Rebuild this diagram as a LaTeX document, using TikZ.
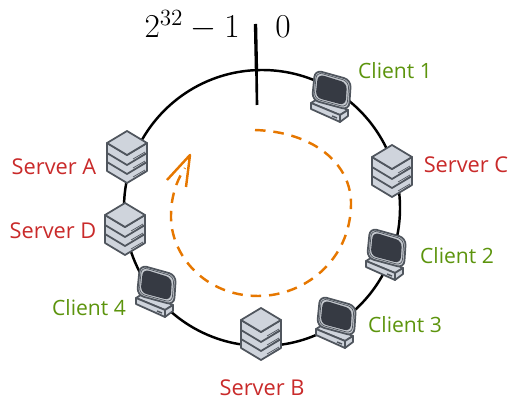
\documentclass[tikz,border=0pt]{standalone}
\usepackage{fontspec}
\setmainfont{Open Sans}
\usepackage{amsmath}
\usepackage{tikz}

\definecolor{iconline}{HTML}{50565E}
\definecolor{iconfill}{HTML}{CFD4DC}
\definecolor{iconrim}{HTML}{C4C8CE}
\definecolor{screendark}{HTML}{363A43}
\definecolor{servertext}{HTML}{C92A2A}
\definecolor{clienttext}{HTML}{5C940D}
\definecolor{sweep}{HTML}{E67700}

\tikzset{
  serverlabel/.style={text=servertext, font=\fontsize{12.4}{14}\selectfont},
  clientlabel/.style={text=clienttext, font=\fontsize{12}{14}\selectfont},
  hashlabel/.style={inner sep=0pt, font=\fontsize{17.5}{20}\selectfont},
  iconstroke/.style={draw=iconline, line width=1pt, line join=round},
  % one stack of three boxes
  pics/serverstack/.style={code={
    \foreach \layer in {18,9,0} {
      \draw[iconstroke, fill=iconfill] (-20,-15+\layer) -- (0,-3+\layer) -- (20,-15+\layer) -- (20,-5+\layer) -- (0,7+\layer) -- (-20,-5+\layer) -- cycle;
      \draw[iconline, line width=0.4pt] (6,1+\layer) -- (18,-6+\layer);
      \draw[iconline, line width=0.8pt] (13,-1+\layer) -- (18,-4+\layer);
    }
    \draw[iconstroke, fill=iconfill] (0,-27) -- (20,-15) -- (0,-3) -- (-20,-15) -- cycle;
  }},
  % desktop with its screen
  pics/clientbox/.style={code={
    \draw[iconstroke, fill=iconfill] (-20,8) -- (-12,3) -- (17,15) -- (9,20) -- cycle;
    \draw[iconstroke, fill=iconfill] (-20,8) -- (9,20) -- (9,27) -- (-20,14) -- cycle;
    \draw[iconstroke, fill=iconfill] (9,20) -- (17,15) -- (17,21) -- (9,27) -- cycle;
    \draw[iconline, line width=0.8pt] (1,21) -- (6,23);
    \draw[iconstroke, fill=iconrim, rounded corners=4pt] (-16,-25) -- (20,-15) -- (18,15) -- (-19,5) -- cycle;
    \draw[iconline, line width=0.4pt, rounded corners=3.5pt] (-14.5,-23) -- (18,-13.5) -- (16,12.5) -- (-17,3.5) -- cycle;
    \fill[screendark, rounded corners=3.5pt] (-13,-21) -- (16,-12) -- (14.5,10.5) -- (-15.5,2.5) -- cycle;
  }}
}

\begin{document}
\begin{tikzpicture}[x=0.02cm, y=-0.02cm]
  \useasboundingbox (0,0) rectangle (519,411);
  % Ring and the mark where it wraps round.
  \draw[line width=1.4pt] (262,208) circle (138);
  \coordinate (tickTop) at (255.5,24);
  \coordinate (tickMiddle) at (256.5,72);
  \coordinate (tickBottom) at (257,105);
  \draw[line width=1.9pt] (tickTop) -- (tickMiddle);
  \draw[line width=1.5pt] (tickMiddle) -- (tickBottom);
  \node[hashlabel, anchor=base east] (hashMax) at (240,38) {\scalebox{1.1}{$2^{32}-1$}};
  \node[hashlabel, anchor=base west] (hashZero) at (275,38) {\scalebox{1.1}{$0$}};
  % Walk clockwise round the ring.
  \draw[sweep, line width=1.4pt, dash pattern=on 6pt off 4.5pt] (255,130) .. controls (315,132) and (352,165) .. (351,205) .. controls (350,260) and (305,296) .. (258,296) .. controls (205,296) and (170,255) .. (171,215) .. controls (171,195) and (178,178) .. (185,168);
  \draw[sweep, line width=1.4pt, line join=round] (167,180) -- (190,155) -- (186,187);
  % Servers.
  \pic (serverA) at (127,158) {serverstack};
  \pic (serverD) at (125,230) {serverstack};
  \pic (serverC) at (392,172) {serverstack};
  \pic (serverB) at (261,335) {serverstack};
  % Clients.
  \pic (client1) at (331,95) {clientbox};
  \pic (client2) at (386,253) {clientbox};
  \pic (client3) at (336,321) {clientbox};
  \pic (client4) at (156,290) {clientbox};
  % Labels.
  \node[serverlabel] (labelA) at (54,167) {Server A};
  \node[serverlabel] (labelD) at (53,231) {Server D};
  \node[serverlabel] (labelC) at (466,165) {Server C};
  \node[serverlabel] (labelB) at (262,388) {Server B};
  \node[clientlabel] (label1) at (395,71) {Client 1};
  \node[clientlabel] (label2) at (457,256) {Client 2};
  \node[clientlabel] (label3) at (405,325) {Client 3};
  \node[clientlabel] (label4) at (89,308) {Client 4};
\end{tikzpicture}
\end{document}
